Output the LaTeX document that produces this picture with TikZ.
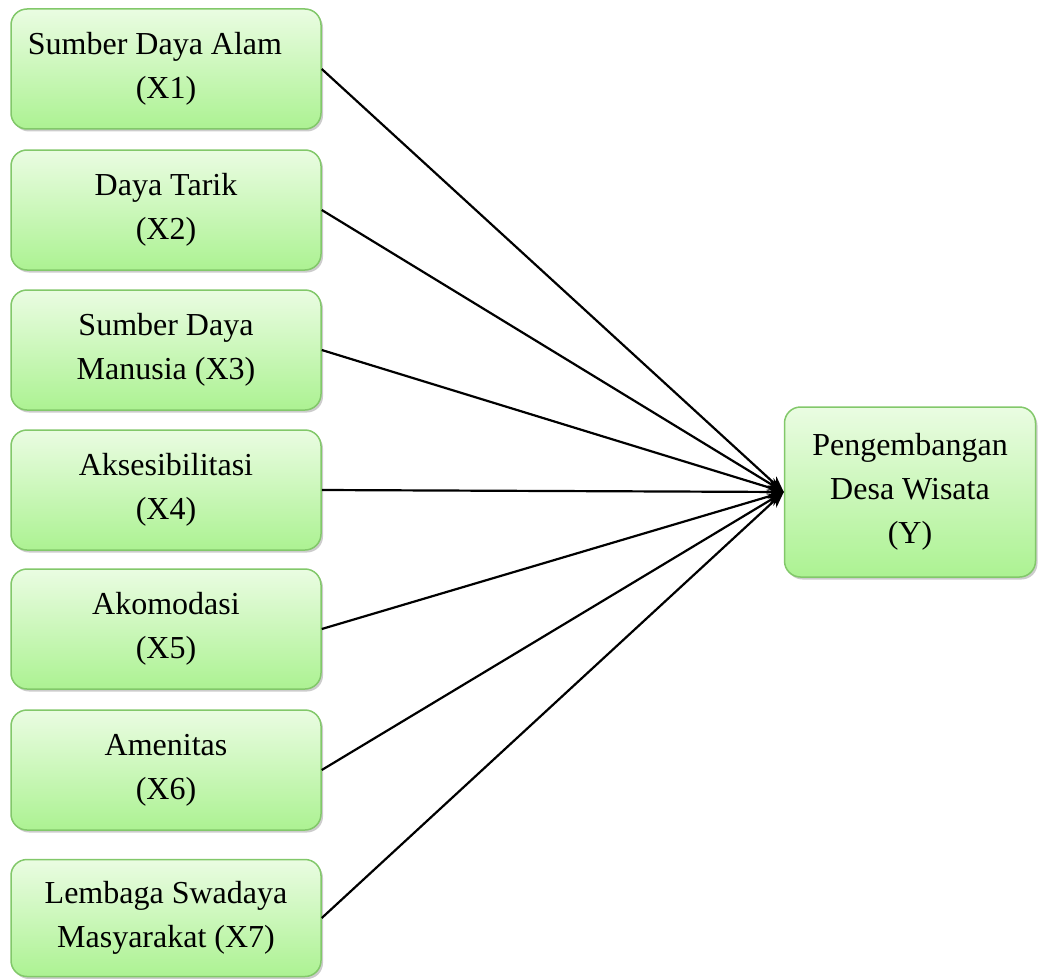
\documentclass[tikz,border=0pt]{standalone}
\usepackage{fontspec}
\setmainfont{Liberation Serif}
\usepackage{tikz}
\usetikzlibrary{positioning}
\usetikzlibrary{shadows}
\usetikzlibrary{arrows.meta}
\usepackage{xcolor}

\definecolor{boxtop}{HTML}{EAFCE2}
\definecolor{boxbot}{HTML}{ACF292}
\definecolor{boxline}{HTML}{82C86A}

\tikzset{
  varbox/.style={draw=boxline, line width=1.5pt, rounded corners=16pt,
    top color=boxtop, bottom color=boxbot, align=center,
    drop shadow={shadow xshift=2pt, shadow yshift=-2.5pt, fill=black!40},
    minimum width=310pt, minimum height=120pt, inner sep=0pt,
    font=\fontsize{32}{44}\selectfont},
  link/.style={black, line width=2.2pt, -{Stealth[length=16pt,width=13pt]}}
}

\begin{document}
\begin{tikzpicture}[x=1pt, y=-1pt]
		\useasboundingbox (0, 0) rectangle (1038, 979);
		\node[varbox] (x1) at (166, 69) {Sumber Daya Alam\hspace*{22pt}\\(X1)};
		\node[varbox] (x2) at (166, 210) {Daya Tarik\\(X2)};
		\node[varbox] (x3) at (166, 350) {Sumber Daya\\Manusia (X3)};
		\node[varbox] (x4) at (166, 490) {Aksesibilitasi\\(X4)};
		\node[varbox] (x5) at (166, 629) {Akomodasi\\(X5)};
		\node[varbox] (x6) at (166, 770) {Amenitas\\(X6)};
		\node[varbox, minimum height=117pt] (x7) at (166, 918) {Lembaga Swadaya\\Masyarakat (X7)};
		\node[varbox, minimum width=251pt, minimum height=170pt] (y) at (910, 492) {Pengembangan\\Desa Wisata\\(Y)};
		\foreach \i in {1,...,7}
			\draw[link] (x\i.east) -- (y.west);
\end{tikzpicture}
\end{document}
